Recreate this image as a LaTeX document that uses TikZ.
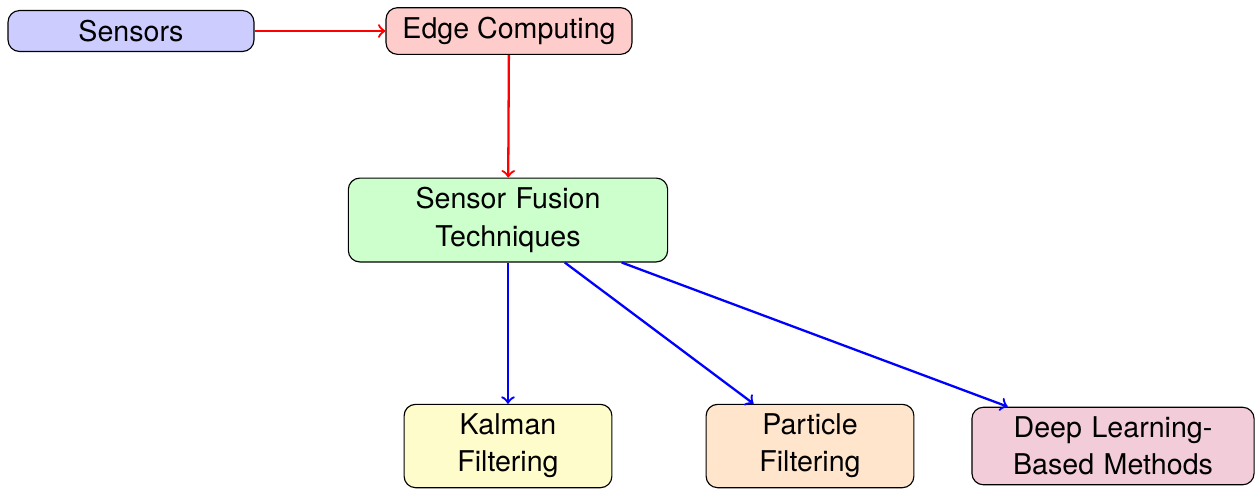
\documentclass[tikz,border=0pt]{standalone}
\usepackage{fontspec}
\setmainfont{TeX Gyre Heros}
\begin{document}
\begin{tikzpicture}[x=0.3497pt,y=-0.3497pt,
  box/.style={draw, rounded corners=4pt, align=center, font=\fontsize{10pt}{13pt}\selectfont},
  redarrow/.style={->, red, thick},
  bluearrow/.style={->, blue, thick}]
\useasboundingbox (0,0) rectangle (1256,488);
\node[box, fill=blue!20, minimum width=86pt] (sensors) at (131,31) {Sensors};
\node[box, fill=red!20, minimum width=86pt] (edge) at (509,31) {Edge Computing};
\node[box, fill=green!20, text width=105pt] (fusion) at (508,220) {Sensor Fusion\\Techniques};
\node[box, fill=yellow!20, text width=66pt] (kalman) at (508,446) {Kalman\\Filtering};
\node[box, fill=orange!20, text width=66pt] (particle) at (810,446) {Particle\\Filtering};
\node[box, fill=purple!20, text width=92pt] (deep) at (1113,446) {Deep Learning-\\Based Methods};
\draw[redarrow] (sensors) -- (edge);
\draw[redarrow] (edge) -- (fusion);
\draw[bluearrow] (fusion) -- (kalman);
\draw[bluearrow] (fusion) -- (particle);
\draw[bluearrow] (fusion) -- (deep);
\end{tikzpicture}
\end{document}
